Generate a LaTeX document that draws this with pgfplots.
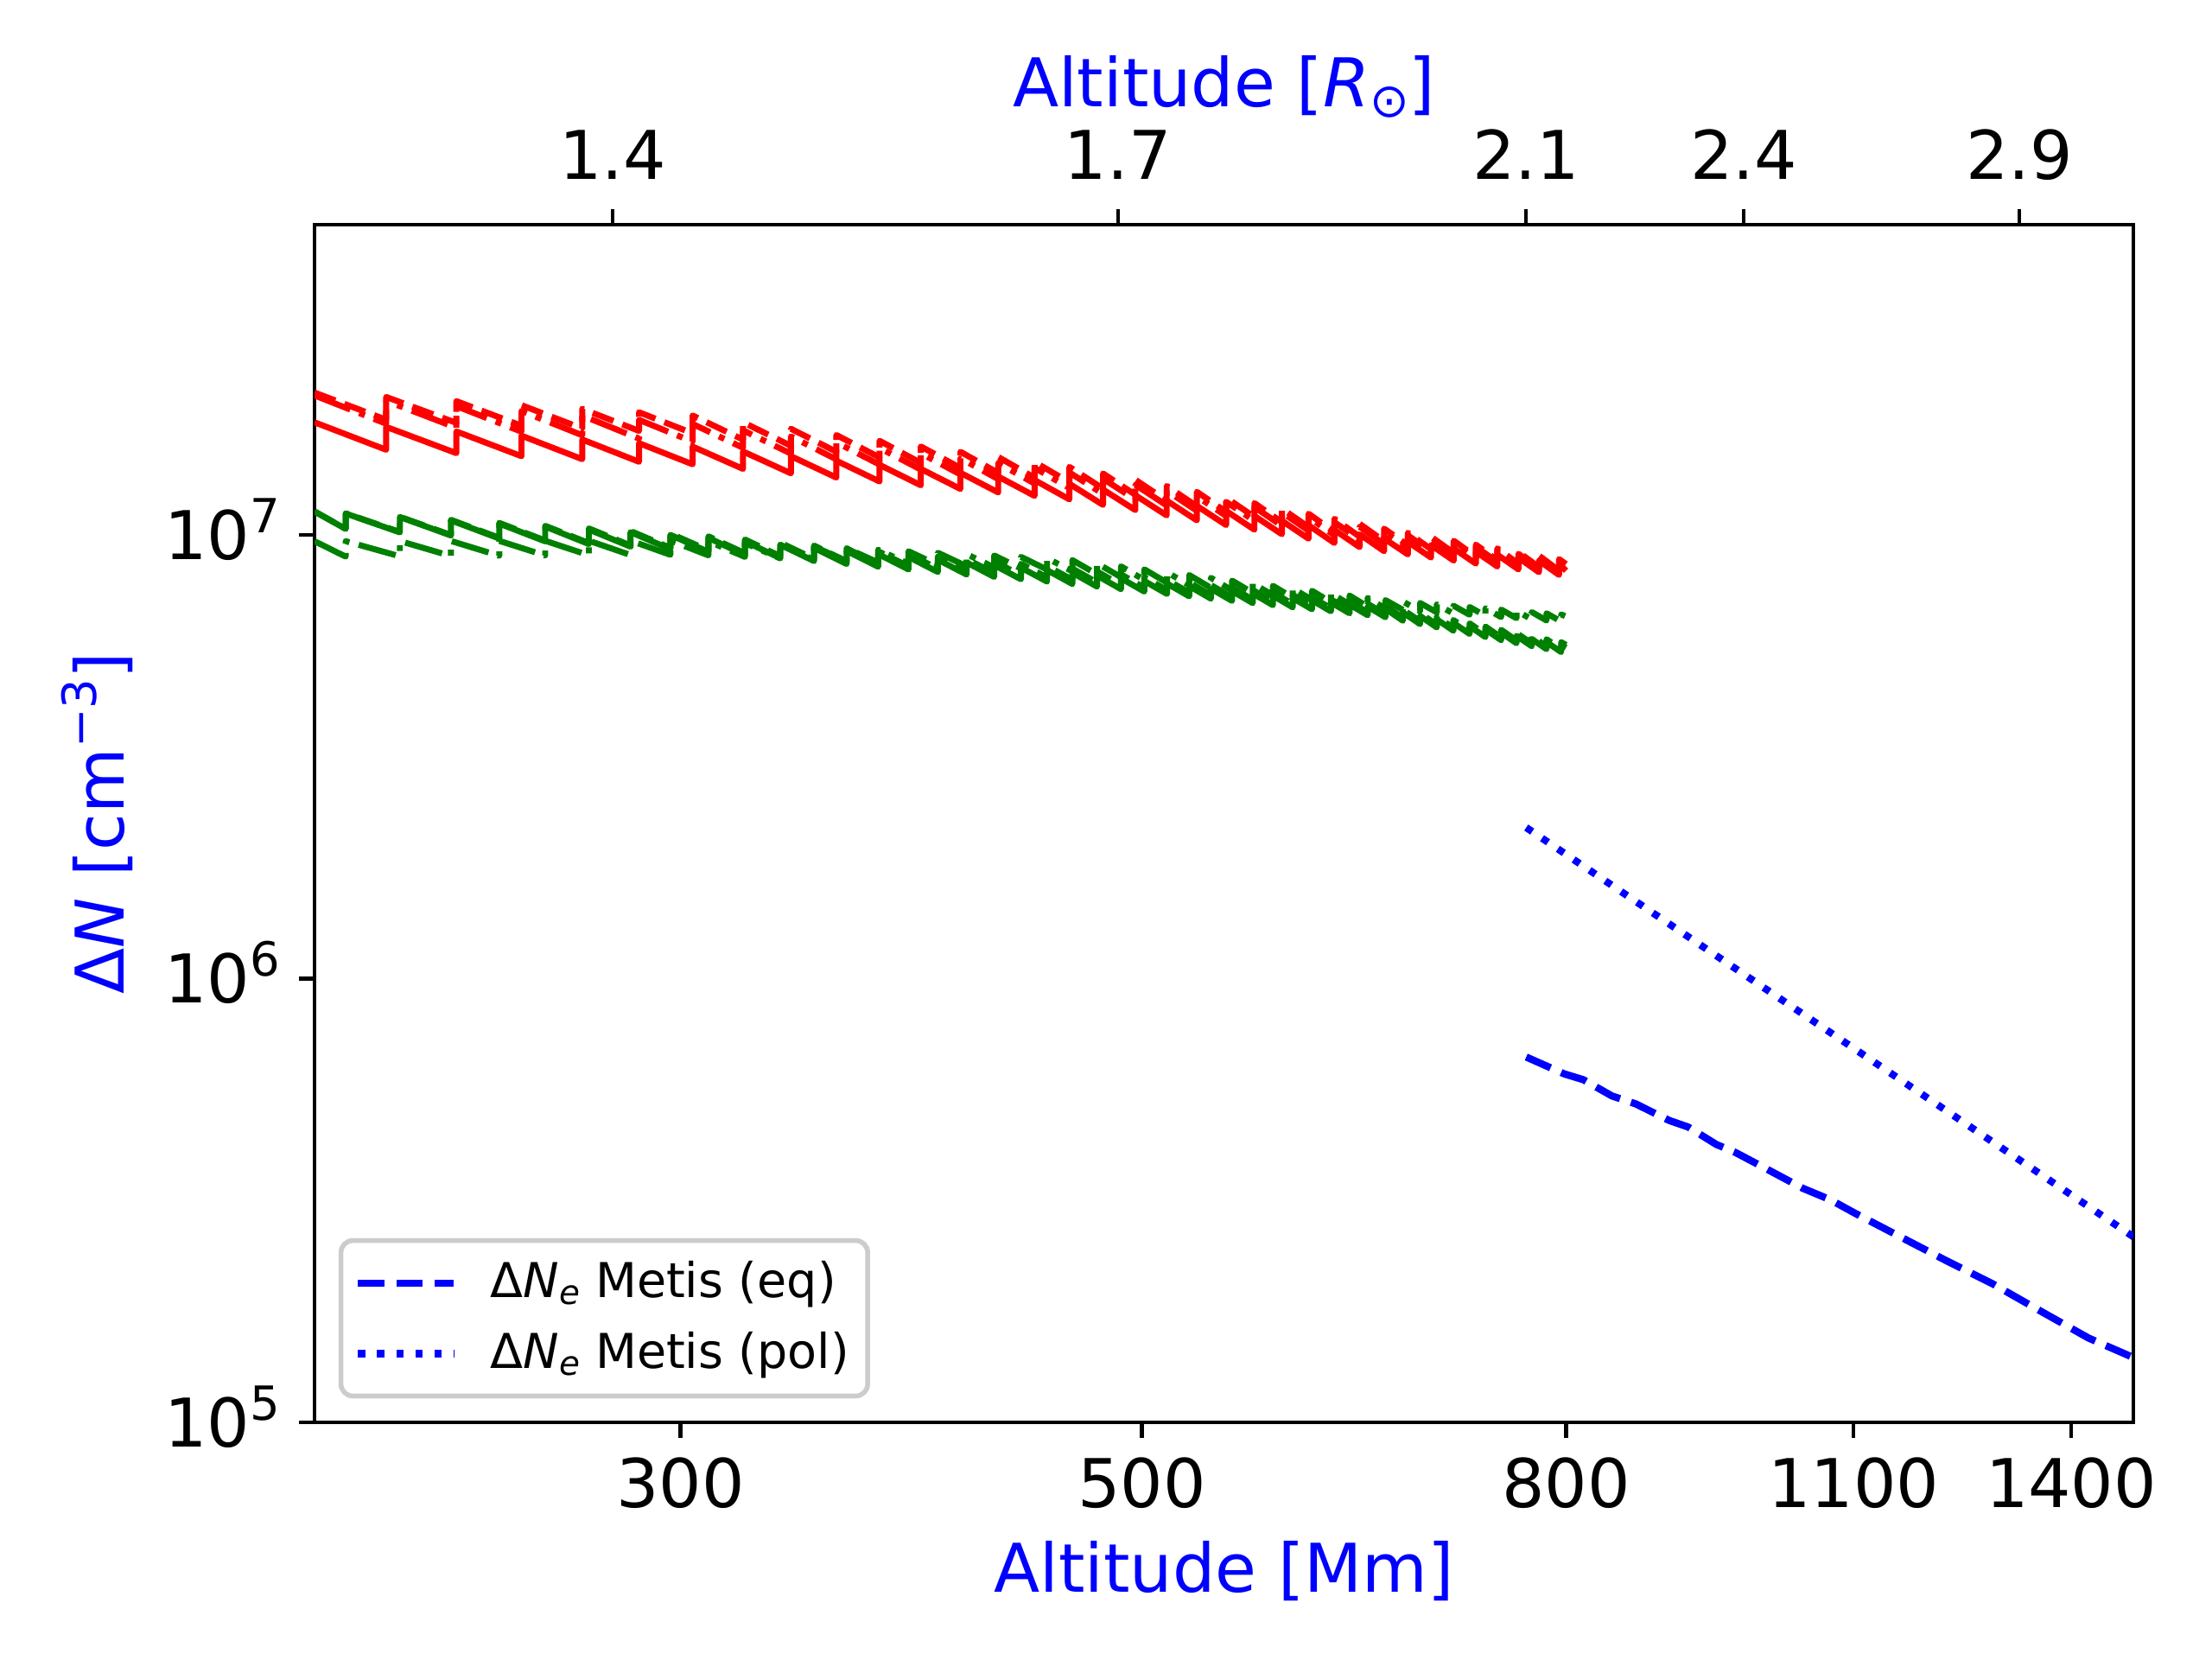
\documentclass[border=0pt]{standalone}
\usepackage{fontspec}
\setmainfont{DejaVu Sans}
\usepackage{pgfplots}
\pgfplotsset{compat=1.18}
\definecolor{mplgreen}{RGB}{0,128,0}
\newcommand{\tenpow}[1]{10\raisebox{0.4em}{\fontsize{9.8}{10}\selectfont #1}}
\begin{document}
\begin{tikzpicture}
\begin{axis}[
  name=ax,
  scale only axis, width=378.9pt, height=249.5pt,
  xmode=log, ymode=log,
  xmin=200, xmax=1500, ymin=1e5, ymax=5e7,
  xtick={300,500,800,1100,1400}, xticklabels={300,500,800,1100,1400},
  ytick={1e5,1e6,1e7}, yticklabels={\tenpow{5},\tenpow{6},\tenpow{7}},
  xtick pos=left, ytick pos=left,
  tick align=outside, major tick length=3.2pt, minor tick length=0pt,
  axis line style={line width=0.8pt},
  major tick style={line width=0.8pt, black},
  every tick label/.append style={font=\fontsize{14}{16}\selectfont},
  xticklabel style={anchor=base, inner sep=0pt, yshift=-14.6pt},
  yticklabel style={anchor=base east, inner sep=0pt, xshift=-3.8pt, yshift=-5.1pt},
  every axis x label/.style={at={(axis description cs:0.5,-0.1415)}, anchor=base},
  every axis y label/.style={at={(axis description cs:-0.105,0.5)}, rotate=90, anchor=base},
  label style={font=\fontsize{14}{16}\selectfont, text=blue},
  xlabel={Altitude [Mm]},
  ylabel={Δ\textit{N} [cm\raisebox{0.4em}{\fontsize{9.8}{10}\selectfont −3}]},
  legend cell align=left,
  legend image code/.code={\draw[#1] (0pt,0pt) -- (20pt,0pt);},
  legend style={at={(axis description cs:0,0)}, anchor=south west, xshift=5pt, yshift=5pt,
    draw=black!20, line width=1pt, rounded corners=2.5pt, fill=white,
    font=\fontsize{10}{12}\selectfont, inner xsep=2.8pt, inner ysep=3.3pt,
    row sep=3.6pt, column sep=5.9pt, nodes={inner sep=1pt}},
]
% red dashed
\addplot[forget plot, red, line width=1.25pt, line join=round, dash pattern=on 4.63pt off 2pt] coordinates {
(200,2.092e7)
(216.5,1.817e7) (216.5,2.045e7) (234,1.788e7) (234,2.001e7) (251.5,1.762e7) (251.5,1.960e7)
(269,1.737e7) (269,1.923e7) (286.5,1.715e7) (286.5,1.889e7) (304,1.694e7) (304,1.858e7)
(321.5,1.639e7) (321.5,1.794e7) (339,1.587e7) (339,1.734e7) (356.5,1.539e7) (356.5,1.679e7)
(374,1.494e7) (374,1.629e7) (391.5,1.453e7) (391.5,1.582e7) (409,1.415e7) (409,1.539e7)
(426.5,1.379e7) (426.5,1.498e7) (444,1.345e7) (444,1.460e7) (461.5,1.313e7) (461.5,1.423e7)
(479,1.271e7) (479,1.375e7) (496.5,1.231e7) (496.5,1.331e7) (514,1.194e7) (514,1.289e7)
(531.5,1.160e7) (531.5,1.250e7) (549,1.127e7) (549,1.213e7) (566.5,1.097e7) (566.5,1.179e7)
(584,1.068e7) (584,1.146e7) (601.5,1.041e7) (601.5,1.116e7) (619,1.015e7) (619,1.087e7)
(636.5,9.904e6) (636.5,1.059e7) (654,9.671e6) (654,1.033e7) (671.5,9.474e6) (671.5,1.011e7)
(689,9.285e6) (689,9.901e6) (706.5,9.105e6) (706.5,9.700e6) (724,8.933e6) (724,9.507e6)
(741.5,8.768e6) (741.5,9.325e6) (759,8.610e6) (759,9.148e6) (776.5,8.457e6) (776.5,8.979e6)
(794,8.310e6) (794,8.816e6) (800,8.596e6)
};
% red dash-dot
\addplot[forget plot, red, line width=1.25pt, line join=round, dash pattern=on 8pt off 2pt on 1.25pt off 2pt] coordinates {
(200,2.061e7)
(216.5,1.780e7) (216.5,2.004e7) (234,1.743e7) (234,1.950e7) (251.5,1.708e7) (251.5,1.901e7)
(269,1.677e7) (269,1.857e7) (286.5,1.648e7) (286.5,1.816e7) (304,1.622e7) (304,1.778e7)
(321.5,1.571e7) (321.5,1.720e7) (339,1.524e7) (339,1.666e7) (356.5,1.480e7) (356.5,1.616e7)
(374,1.440e7) (374,1.570e7) (391.5,1.403e7) (391.5,1.527e7) (409,1.368e7) (409,1.488e7)
(426.5,1.335e7) (426.5,1.451e7) (444,1.305e7) (444,1.416e7) (461.5,1.275e7) (461.5,1.382e7)
(479,1.236e7) (479,1.338e7) (496.5,1.200e7) (496.5,1.296e7) (514,1.165e7) (514,1.257e7)
(531.5,1.133e7) (531.5,1.221e7) (549,1.103e7) (549,1.187e7) (566.5,1.075e7) (566.5,1.155e7)
(584,1.048e7) (584,1.124e7) (601.5,1.022e7) (601.5,1.096e7) (619,9.978e6) (619,1.068e7)
(636.5,9.749e6) (636.5,1.043e7) (654,9.531e6) (654,1.018e7) (671.5,9.345e6) (671.5,9.974e6)
(689,9.167e6) (689,9.775e6) (706.5,8.998e6) (706.5,9.586e6) (724,8.835e6) (724,9.403e6)
(741.5,8.680e6) (741.5,9.231e6) (759,8.531e6) (759,9.064e6) (776.5,8.386e6) (776.5,8.903e6)
(794,8.247e6) (794,8.749e6) (800,8.527e6)
};
% red solid
\addplot[forget plot, red, line width=1.25pt, line join=round] coordinates {
(200,1.793e7)
(216.5,1.555e7) (216.5,1.751e7) (234,1.528e7) (234,1.710e7) (251.5,1.504e7) (251.5,1.673e7)
(269,1.481e7) (269,1.640e7) (286.5,1.461e7) (286.5,1.609e7) (304,1.442e7) (304,1.581e7)
(321.5,1.408e7) (321.5,1.541e7) (339,1.376e7) (339,1.504e7) (356.5,1.346e7) (356.5,1.469e7)
(374,1.319e7) (374,1.438e7) (391.5,1.293e7) (391.5,1.408e7) (409,1.269e7) (409,1.380e7)
(426.5,1.246e7) (426.5,1.353e7) (444,1.224e7) (444,1.329e7) (461.5,1.202e7) (461.5,1.303e7)
(479,1.168e7) (479,1.265e7) (496.5,1.137e7) (496.5,1.228e7) (514,1.106e7) (514,1.194e7)
(531.5,1.078e7) (531.5,1.162e7) (549,1.052e7) (549,1.132e7) (566.5,1.027e7) (566.5,1.103e7)
(584,1.003e7) (584,1.076e7) (601.5,9.801e6) (601.5,1.051e7) (619,9.585e6) (619,1.026e7)
(636.5,9.381e6) (636.5,1.003e7) (654,9.187e6) (654,9.815e6) (671.5,9.034e6) (671.5,9.642e6)
(689,8.887e6) (689,9.477e6) (706.5,8.747e6) (706.5,9.318e6) (724,8.612e6) (724,9.166e6)
(741.5,8.483e6) (741.5,9.021e6) (759,8.358e6) (759,8.880e6) (776.5,8.237e6) (776.5,8.745e6)
(794,8.120e6) (794,8.614e6) (800,8.30e6)
};
% green solid
\addplot[forget plot, mplgreen, line width=1.25pt, line join=round] coordinates {
(200,1.129e7)
(207,1.031e7) (207,1.117e7) (219.8,1.013e7) (219.8,1.097e7) (232.6,9.966e6) (232.6,1.078e7)
(245.4,9.812e6) (245.4,1.060e7) (258.2,9.669e6) (258.2,1.044e7) (271,9.533e6) (271,1.028e7)
(283.8,9.407e6) (283.8,1.014e7) (296.6,9.287e6) (296.6,9.999e6) (309.4,9.153e6) (309.4,9.844e6)
(322.2,9.003e6) (322.2,9.668e6) (335,8.860e6) (335,9.502e6) (347.8,8.726e6) (347.8,9.344e6)
(360.6,8.597e6) (360.6,9.195e6) (373.4,8.474e6) (373.4,9.053e6) (386.2,8.357e6) (386.2,8.917e6)
(399,8.247e6) (399,8.790e6) (411.8,8.140e6) (411.8,8.666e6) (424.6,8.039e6) (424.6,8.549e6)
(437.4,7.942e6) (437.4,8.436e6) (450.2,7.848e6) (450.2,8.328e6) (463,7.751e6) (463,8.216e6)
(475.8,7.647e6) (475.8,8.097e6) (488.6,7.547e6) (488.6,7.983e6) (501.4,7.451e6) (501.4,7.873e6)
(514.2,7.358e6) (514.2,7.767e6) (527,7.269e6) (527,7.665e6) (539.8,7.183e6) (539.8,7.566e6)
(552.6,7.100e6) (552.6,7.472e6) (565.4,7.019e6) (565.4,7.380e6) (578.2,6.942e6) (578.2,7.292e6)
(591,6.867e6) (591,7.206e6) (603.8,6.795e6) (603.8,7.124e6) (616.6,6.724e6) (616.6,7.044e6)
(629.4,6.656e6) (629.4,6.967e6) (642.2,6.590e6) (642.2,6.892e6) (655,6.520e6) (655,6.814e6)
(667.8,6.404e6) (667.8,6.687e6) (680.6,6.292e6) (680.6,6.567e6) (693.4,6.185e6) (693.4,6.449e6)
(706.2,6.080e6) (706.2,6.336e6) (719,5.980e6) (719,6.227e6) (731.8,5.883e6) (731.8,6.123e6)
(744.6,5.789e6) (744.6,6.022e6) (757.4,5.698e6) (757.4,5.923e6) (770.2,5.611e6) (770.2,5.828e6)
(783,5.525e6) (783,5.736e6) (795.8,5.443e6) (795.8,5.647e6) (800,5.57e6)
};
% green dashed
\addplot[forget plot, mplgreen, line width=1.25pt, line join=round, dash pattern=on 4.63pt off 2pt] coordinates {
(200,1.129e7)
(207,1.032e7) (207,1.118e7) (219.8,1.015e7) (219.8,1.098e7) (232.6,9.993e6) (232.6,1.081e7)
(245.4,9.848e6) (245.4,1.064e7) (258.2,9.712e6) (258.2,1.048e7) (271,9.584e6) (271,1.034e7)
(283.8,9.465e6) (283.8,1.020e7) (296.6,9.351e6) (296.6,1.007e7) (309.4,9.227e6) (309.4,9.923e6)
(322.2,9.088e6) (322.2,9.760e6) (335,8.957e6) (335,9.605e6) (347.8,8.832e6) (347.8,9.459e6)
(360.6,8.713e6) (360.6,9.319e6) (373.4,8.600e6) (373.4,9.187e6) (386.2,8.491e6) (386.2,9.061e6)
(399,8.388e6) (399,8.941e6) (411.8,8.290e6) (411.8,8.825e6) (424.6,8.195e6) (424.6,8.716e6)
(437.4,8.105e6) (437.4,8.609e6) (450.2,8.018e6) (450.2,8.507e6) (463,7.923e6) (463,8.398e6)
(475.8,7.811e6) (475.8,8.271e6) (488.6,7.705e6) (488.6,8.149e6) (501.4,7.603e6) (501.4,8.034e6)
(514.2,7.505e6) (514.2,7.921e6) (527,7.409e6) (527,7.813e6) (539.8,7.318e6) (539.8,7.708e6)
(552.6,7.231e6) (552.6,7.609e6) (565.4,7.145e6) (565.4,7.512e6) (578.2,7.062e6) (578.2,7.419e6)
(591,6.984e6) (591,7.328e6) (603.8,6.907e6) (603.8,7.241e6) (616.6,6.832e6) (616.6,7.156e6)
(629.4,6.760e6) (629.4,7.075e6) (642.2,6.690e6) (642.2,6.996e6) (655,6.616e6) (655,6.914e6)
(667.8,6.499e6) (667.8,6.787e6) (680.6,6.385e6) (680.6,6.663e6) (693.4,6.276e6) (693.4,6.545e6)
(706.2,6.170e6) (706.2,6.430e6) (719,6.069e6) (719,6.319e6) (731.8,5.970e6) (731.8,6.214e6)
(744.6,5.875e6) (744.6,6.111e6) (757.4,5.782e6) (757.4,6.011e6) (770.2,5.694e6) (770.2,5.915e6)
(783,5.607e6) (783,5.820e6) (795.8,5.523e6) (795.8,5.731e6) (800,5.65e6)
};
% green dash-dot
\addplot[forget plot, mplgreen, line width=1.25pt, line join=round, dash pattern=on 8pt off 2pt on 1.25pt off 2pt] coordinates {
(200,9.675e6)
(207,8.932e6) (207,9.677e6) (219.8,8.946e6) (219.8,9.683e6) (232.6,8.960e6) (232.6,9.687e6)
(245.4,8.972e6) (245.4,9.692e6) (258.2,8.985e6) (258.2,9.696e6) (271,8.996e6) (271,9.701e6)
(283.8,9.007e6) (283.8,9.704e6) (296.6,9.017e6) (296.6,9.708e6) (309.4,8.990e6) (309.4,9.668e6)
(322.2,8.919e6) (322.2,9.579e6) (335,8.851e6) (335,9.492e6) (347.8,8.786e6) (347.8,9.410e6)
(360.6,8.724e6) (360.6,9.331e6) (373.4,8.665e6) (373.4,9.257e6) (386.2,8.607e6) (386.2,9.184e6)
(399,8.552e6) (399,9.114e6) (411.8,8.499e6) (411.8,9.048e6) (424.6,8.448e6) (424.6,8.985e6)
(437.4,8.400e6) (437.4,8.922e6) (450.2,8.352e6) (450.2,8.862e6) (463,8.276e6) (463,8.773e6)
(475.8,8.150e6) (475.8,8.630e6) (488.6,8.031e6) (488.6,8.494e6) (501.4,7.916e6) (501.4,8.364e6)
(514.2,7.805e6) (514.2,8.238e6) (527,7.699e6) (527,8.118e6) (539.8,7.596e6) (539.8,8.002e6)
(552.6,7.498e6) (552.6,7.890e6) (565.4,7.402e6) (565.4,7.782e6) (578.2,7.310e6) (578.2,7.679e6)
(591,7.222e6) (591,7.578e6) (603.8,7.136e6) (603.8,7.482e6) (616.6,7.052e6) (616.6,7.388e6)
(629.4,6.972e6) (629.4,7.298e6) (642.2,6.894e6) (642.2,7.210e6) (655,6.822e6) (655,7.128e6)
(667.8,6.776e6) (667.8,7.076e6) (680.6,6.732e6) (680.6,7.024e6) (693.4,6.689e6) (693.4,6.975e6)
(706.2,6.646e6) (706.2,6.926e6) (719,6.605e6) (719,6.879e6) (731.8,6.566e6) (731.8,6.833e6)
(744.6,6.526e6) (744.6,6.788e6) (757.4,6.487e6) (757.4,6.744e6) (770.2,6.450e6) (770.2,6.700e6)
(783,6.413e6) (783,6.658e6) (795.8,6.377e6) (795.8,6.617e6) (800,6.55e6)
};
% blue
\addplot[blue, line width=1.5pt, line join=round, dash pattern=on 5.55pt off 2.4pt] coordinates {
(765.6,6.66e5) (798.6,6.10e5) (815.5,5.92e5) (841.8,5.44e5) (864.4,5.22e5) (897,4.79e5)
(916,4.63e5) (945,4.23e5) (965,4.06e5) (986,3.85e5) (1040,3.37e5) (1073,3.17e5)
(1102,2.96e5) (1155,2.64e5) (1218,2.32e5) (1284,2.05e5) (1354,1.78e5) (1427,1.55e5) (1500,1.40e5)
};
\addlegendentry{Δ\textit{N}\raisebox{-0.15em}{\fontsize{7}{8}\selectfont\textit{e}} Metis (eq)}
\addplot[blue, line width=1.5pt, dash pattern=on 1.5pt off 2.475pt] coordinates {
(765.6,2.19e6) (1500,2.62e5)
};
\addlegendentry{Δ\textit{N}\raisebox{-0.15em}{\fontsize{7}{8}\selectfont\textit{e}} Metis (pol)}
\end{axis}
\begin{axis}[
  at={(ax.south west)}, anchor=south west,
  scale only axis, width=378.9pt, height=249.5pt,
  xmode=log, xmin=200, xmax=1500, ymin=0, ymax=1,
  axis x line*=top, axis y line=none,
  xtick={278.28,486.99,765.27,973.98,1321.83}, xticklabels={1.4,1.7,2.1,2.4,2.9},
  tick align=outside, major tick length=3.2pt, minor tick length=0pt,
  axis line style={line width=0.8pt},
  major tick style={line width=0.8pt, black},
  every tick label/.append style={font=\fontsize{14}{16}\selectfont},
  xticklabel style={anchor=base, inner sep=0pt, yshift=6.2pt},
  every axis x label/.style={at={(axis description cs:0.5,1.0982)}, anchor=base},
  label style={font=\fontsize{14}{16}\selectfont, text=blue},
  xlabel={Altitude [\textit{R}\raisebox{-0.15em}{\fontsize{9.8}{10}\selectfont ⊙}]},
]
\end{axis}
\pgfresetboundingbox
\path ([xshift=-65.52pt, yshift=-49.32pt]ax.south west) rectangle ([xshift=16.38pt, yshift=46.8pt]ax.north east);
\end{tikzpicture}
\end{document}
